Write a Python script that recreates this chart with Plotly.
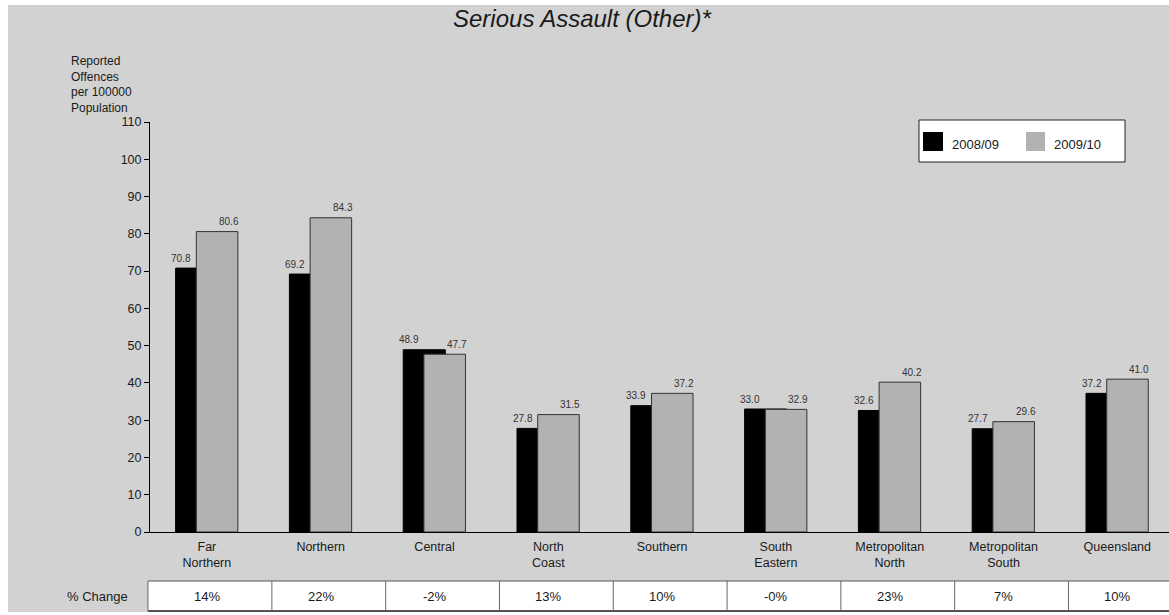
import plotly.graph_objects as go

# ---------------- data ----------------
categories = ["Far<br>Northern", "Northern", "Central", "North<br>Coast", "Southern",
              "South<br>Eastern", "Metropolitan<br>North", "Metropolitan<br>South", "Queensland"]
values_0809 = [70.8, 69.2, 48.9, 27.8, 33.9, 33.0, 32.6, 27.7, 37.2]
values_0910 = [80.6, 84.3, 47.7, 31.5, 37.2, 32.9, 40.2, 29.6, 41.0]
pct_change = ["14%", "22%", "-2%", "13%", "10%", "-0%", "23%", "7%", "10%"]
series_names = ["2008/09", "2009/10"]
y_tick_values = list(range(0, 111, 10))
title_text = "Serious Assault (Other)*"
y_title_text = "Reported<br>Offences<br>per 100000<br>Population"
table_label = "% Change"

# ---------------- layout constants ----------------
FIG_W, FIG_H = 1161, 607
ML, MT, PW, PH = 142, 117, 1019, 410
MB = FIG_H - MT - PH
MR = FIG_W - ML - PW
CAT_PX = 113.8
XMIN = -0.5
XMAX = XMIN + PW / CAT_PX

BG = "#D2D2D2"
BLACK = "#000000"
GREY = "#B2B2B2"
FONT = "Liberation Sans, Arial, sans-serif"
TXT = "#1a1a1a"


def px_x(fx):
    return (fx - ML) / PW


def px_y(fy):
    return (MT + PH - fy) / PH


def dx(xd):
    return (xd - XMIN) / (XMAX - XMIN)


idx = list(range(len(categories)))

fig = go.Figure()
fig.add_trace(go.Bar(x=idx, y=values_0809, name=series_names[0], width=0.37, offset=-0.275,
                     marker=dict(color=BLACK, line=dict(color=BLACK, width=1)),
                     showlegend=False, hoverinfo="skip"))
fig.add_trace(go.Bar(x=idx, y=values_0910, name=series_names[1], width=0.365, offset=-0.093,
                     marker=dict(color=GREY, line=dict(color="#333333", width=1)),
                     showlegend=False, hoverinfo="skip"))

annotations = []
# data labels
for i, v in enumerate(values_0809):
    annotations.append(dict(x=i - 0.225, y=v, xref="x", yref="y", text=f"{v:.1f}",
                            showarrow=False, yanchor="middle", yshift=10,
                            font=dict(family=FONT, size=10, color="#333333")))
for i, v in enumerate(values_0910):
    annotations.append(dict(x=i + 0.195, y=v, xref="x", yref="y", text=f"{v:.1f}",
                            showarrow=False, yanchor="middle", yshift=10,
                            font=dict(family=FONT, size=10, color="#333333")))

# title
annotations.append(dict(x=px_x(574.5), y=px_y(13), xref="paper", yref="paper",
                        text="<i>" + title_text + "</i>",
                        showarrow=False, xanchor="center", yanchor="middle",
                        font=dict(family=FONT, size=24, color=TXT)))
# y title
annotations.append(dict(x=px_x(61), y=px_y(47), xref="paper", yref="paper", text=y_title_text,
                        showarrow=False, xanchor="left", yanchor="top", align="left",
                        font=dict(family=FONT, size=12, color=TXT)))

shapes = []
# legend box
shapes.append(dict(type="rect", xref="paper", yref="paper",
                   x0=px_x(911), x1=px_x(1117), y0=px_y(157), y1=px_y(115),
                   fillcolor="white", line=dict(color="#222222", width=1)))
shapes.append(dict(type="rect", xref="paper", yref="paper",
                   x0=px_x(915), x1=px_x(935), y0=px_y(146), y1=px_y(127),
                   fillcolor=BLACK, line=dict(width=0)))
shapes.append(dict(type="rect", xref="paper", yref="paper",
                   x0=px_x(1018), x1=px_x(1037), y0=px_y(146), y1=px_y(127),
                   fillcolor=GREY, line=dict(width=0)))
annotations.append(dict(x=px_x(942), y=px_y(139), xref="paper", yref="paper", text=series_names[0],
                        showarrow=False, xanchor="left", yanchor="middle",
                        font=dict(family=FONT, size=13, color=TXT)))
annotations.append(dict(x=px_x(1044), y=px_y(139), xref="paper", yref="paper", text=series_names[1],
                        showarrow=False, xanchor="left", yanchor="middle",
                        font=dict(family=FONT, size=13, color=TXT)))

# % change table
t_top, t_bot = px_y(576), px_y(606)
t_left = dx(-0.518)
shapes.append(dict(type="rect", xref="paper", yref="paper", x0=t_left, x1=1.05,
                   y0=t_bot, y1=t_top, fillcolor="white", line=dict(width=0)))
shapes.append(dict(type="line", xref="paper", yref="paper", x0=t_left, x1=1.05,
                   y0=t_top, y1=t_top, line=dict(color="#555555", width=1)))
shapes.append(dict(type="line", xref="paper", yref="paper", x0=t_left, x1=1.05,
                   y0=t_bot, y1=t_bot, line=dict(color="#222222", width=1.5)))
for b in [-0.518] + [0.571 + k for k in range(8)]:
    shapes.append(dict(type="line", xref="paper", yref="paper", x0=dx(b), x1=dx(b),
                       y0=t_bot, y1=t_top, line=dict(color="#666666", width=1)))
for i, p in enumerate(pct_change):
    annotations.append(dict(x=i, y=(t_top + t_bot) / 2, xref="x", yref="paper", text=p,
                            showarrow=False, xanchor="center", yanchor="middle",
                            font=dict(family=FONT, size=13, color=TXT)))
annotations.append(dict(x=px_x(122), y=(t_top + t_bot) / 2, xref="paper", yref="paper",
                        text=table_label, showarrow=False, xanchor="right", yanchor="middle",
                        font=dict(family=FONT, size=13, color=TXT)))

fig.update_layout(
    width=FIG_W, height=FIG_H,
    margin=dict(l=ML, r=MR, t=MT, b=MB, pad=0),
    paper_bgcolor=BG, plot_bgcolor=BG,
    barmode="overlay",
    showlegend=False,
    font=dict(family=FONT, size=13, color=TXT),
    annotations=annotations,
    shapes=shapes,
    xaxis=dict(range=[XMIN, XMAX], tickvals=idx, ticktext=categories, showgrid=False,
               zeroline=False, showline=True, linecolor="#000000", linewidth=1,
               ticks="", ticklabelstandoff=3,
               tickfont=dict(family=FONT, size=12.5, color=TXT), fixedrange=True),
    yaxis=dict(range=[0, 110], tickvals=y_tick_values, showgrid=False, zeroline=False,
               showline=True, linecolor="#000000", linewidth=1, ticks="outside", ticklen=5,
               tickcolor="#000000", tickfont=dict(family=FONT, size=12.5, color=TXT),
               fixedrange=True),
)

fig.write_html("out.html", config={"displayModeBar": False},
               post_script="document.body.style.margin='5px 0 0 8px';")
